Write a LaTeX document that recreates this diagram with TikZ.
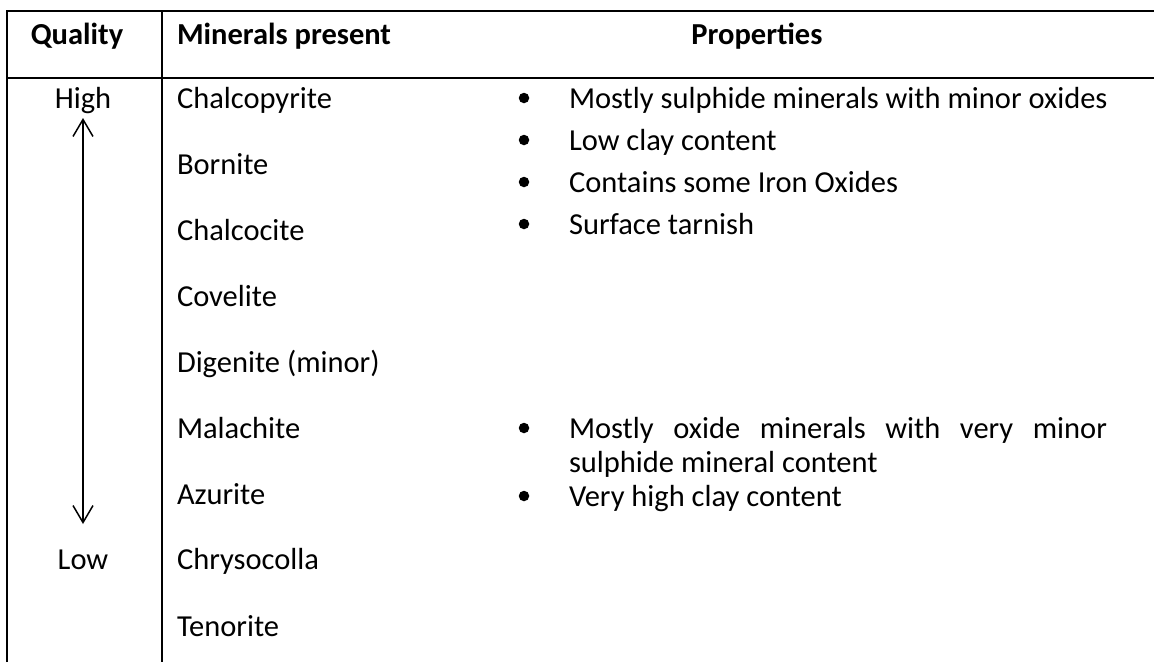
\documentclass[tikz,border=0pt]{standalone}
\usepackage{fontspec}
\setmainfont{Carlito}
\usetikzlibrary{arrows.meta}
\begin{document}
\begin{tikzpicture}[x=1pt,y=-1pt,
  every node/.style={inner sep=0pt, outer sep=0pt, font=\fontsize{30.5}{36}\selectfont},
  rule/.style={line width=2pt, black},
  txt/.style={anchor=base west},
  mid/.style={anchor=base},
  hdr/.style={anchor=base, font=\fontsize{30.5}{36}\selectfont\bfseries},
  bul/.style={circle, fill=black, minimum size=10.5pt, inner sep=0pt},
  qarrow/.style={line width=1.5pt,
    {Straight Barb[length=17pt,width=20pt,line width=1.5pt]}-{Straight Barb[length=17pt,width=20pt,line width=1.5pt]}}
]
\useasboundingbox (0,0) rectangle (1154,662);

% table rules
\coordinate (tl) at (7,11);
\coordinate (tr) at (1154,11);
\coordinate (bl) at (7,662);
\coordinate (hl) at (7,78);
\coordinate (hr) at (1154,78);
\coordinate (ct) at (162,11);
\coordinate (cb) at (162,662);
\draw[rule] (bl) -- (tl) -- (tr);
\draw[rule] (hl) -- (hr);
\draw[rule] (ct) -- (cb);

% header row
\node[hdr] (hq) at (77,44) {Quality};
\node[hdr, anchor=base west] (hm) at (177,44) {Minerals present};
\node[hdr] (hp) at (757,44) {Properties};

% quality scale
\node[mid] (high) at (83,108) {High};
\node[mid] (low) at (83,569) {Low};
\coordinate (atop) at (83,118);
\coordinate (abot) at (83,524);
\draw[qarrow] (abot) -- (atop);

% minerals
\node[txt] (m1) at (177,108) {Chalcopyrite};
\node[txt] (m2) at (177,174) {Bornite};
\node[txt] (m3) at (177,240) {Chalcocite};
\node[txt] (m4) at (177,306) {Covelite};
\node[txt] (m5) at (177,372) {Digenite (minor)};
\node[txt] (m6) at (177,438) {Malachite};
\node[txt] (m7) at (177,504) {Azurite};
\node[txt] (m8) at (177,569) {Chrysocolla};
\node[txt] (m9) at (177,636) {Tenorite};

% properties, high grade
\node[txt] (p1) at (569,108) {Mostly sulphide minerals with minor oxides};
\node[txt] (p2) at (569,150) {Low clay content};
\node[txt] (p3) at (569,192) {Contains some Iron Oxides};
\node[txt] (p4) at (569,234) {Surface tarnish};
\node[bul] (b1) at (524,98) {};
\node[bul] (b2) at (524,140) {};
\node[bul] (b3) at (524,182) {};
\node[bul] (b4) at (524,224) {};

% properties, low grade
\node[txt] (p5) at (569,438) {\makebox[538pt][s]{Mostly oxide minerals with very minor}};
\node[txt] (p6) at (569,472) {sulphide mineral content};
\node[txt] (p7) at (569,506) {Very high clay content};
\node[bul] (b5) at (524,428) {};
\node[bul] (b7) at (524,496) {};
\end{tikzpicture}
\end{document}
